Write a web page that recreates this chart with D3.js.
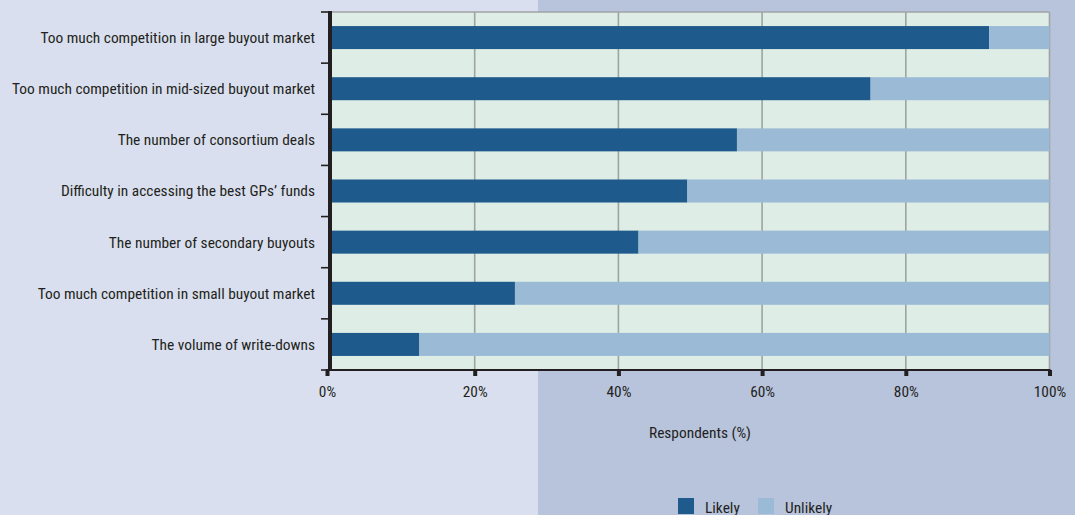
<!DOCTYPE html>
<html>
<head>
<meta charset="utf-8">
<script src="https://cdn.jsdelivr.net/npm/d3@7"></script>
<style>
  html, body { margin: 0; padding: 0; background: #d9dfee; }
  svg { display: block; }
  text { font-family: "Liberation Sans Narrow", "Roboto Condensed", "Liberation Sans", sans-serif; fill: #231f20; }
</style>
</head>
<body>
<svg id="chart" width="1075" height="515"></svg>
<script>
// Survey responses: share of respondents rating each factor as likely / unlikely
const categories = [
  "Too much competition in large buyout market",
  "Too much competition in mid-sized buyout market",
  "The number of consortium deals",
  "Difficulty in accessing the best GPs\u2019 funds",
  "The number of secondary buyouts",
  "Too much competition in small buyout market",
  "The volume of write-downs"
];
const likely = [91.6, 75.1, 56.5, 49.6, 42.8, 25.6, 12.3];
const unlikely = likely.map(v => 100 - v);
const seriesNames = ["Likely", "Unlikely"];
const seriesColors = ["#1f5a8c", "#9bbad6"];
const xTicks = [0, 20, 40, 60, 80, 100];

const FS = 15.4;
const svg = d3.select("#chart");
const W = 1075, H = 515;
const plot = { left: 331, right: 1049.5, top: 12, bottom: 370 };

// background panels
svg.append("rect").attr("x", 0).attr("y", 0).attr("width", W).attr("height", H).attr("fill", "#d9dfee");
svg.append("rect").attr("x", 538).attr("y", 0).attr("width", W - 538).attr("height", H).attr("fill", "#b8c3dc");

const x = d3.scaleLinear().domain([0, 100]).range([plot.left, plot.right]);
const y = d3.scaleBand().domain(categories).range([plot.top, plot.bottom]).paddingInner(0.55).paddingOuter(0.275);
const yBands = d3.scaleBand().domain(categories).range([plot.top, plot.bottom]);

// plot area
svg.append("rect")
  .attr("x", x(0)).attr("y", plot.top)
  .attr("width", x(100) - x(0)).attr("height", plot.bottom - plot.top)
  .attr("fill", "#deede5");

// vertical gridlines
svg.append("g").selectAll("line").data(xTicks.filter(t => t > 0)).join("line")
  .attr("x1", d => x(d)).attr("x2", d => x(d))
  .attr("y1", plot.top).attr("y2", plot.bottom)
  .attr("stroke", "#9fa3a4").attr("stroke-width", 1.6);

// top border
svg.append("line")
  .attr("x1", x(0)).attr("x2", x(100))
  .attr("y1", plot.top).attr("y2", plot.top)
  .attr("stroke", "#9fa3a4").attr("stroke-width", 1.6);

// stacked bars
const stackData = categories.map((c, i) => ({ cat: c, Likely: likely[i], Unlikely: unlikely[i] }));
const stacked = d3.stack().keys(seriesNames)(stackData);
svg.append("g").selectAll("g").data(stacked).join("g")
  .attr("fill", (d, i) => seriesColors[i])
  .selectAll("rect").data(d => d).join("rect")
  .attr("x", d => x(d[0]))
  .attr("width", d => x(d[1]) - x(d[0]))
  .attr("y", d => y(d.data.cat))
  .attr("height", y.bandwidth());

// y axis: thick line with ticks at band boundaries
const boundaries = categories.map(c => yBands(c)).concat([plot.bottom]);
svg.append("g").selectAll("line").data(boundaries).join("line")
  .attr("x1", 321).attr("x2", 330)
  .attr("y1", d => d).attr("y2", d => d)
  .attr("stroke", "#231f20").attr("stroke-width", 1.6);
svg.append("line")
  .attr("x1", 330).attr("x2", 330)
  .attr("y1", plot.top - 1).attr("y2", plot.bottom + 1)
  .attr("stroke", "#231f20").attr("stroke-width", 4);

// x axis line and ticks
svg.append("line")
  .attr("x1", 326).attr("x2", x(100) + 1)
  .attr("y1", plot.bottom).attr("y2", plot.bottom)
  .attr("stroke", "#231f20").attr("stroke-width", 2);
const xAxis = d3.axisBottom(x).tickValues(xTicks).tickFormat(d => d + "%").tickSize(6).tickPadding(10);
const gx = svg.append("g").attr("transform", `translate(0,${plot.bottom})`).call(xAxis);
gx.select(".domain").remove();
gx.selectAll(".tick line").attr("stroke", "#231f20").attr("stroke-width", 4)
  .attr("transform", (d) => d === 0 ? "translate(-4,0)" : null);
gx.selectAll(".tick text").attr("font-size", FS).attr("fill", "#231f20")
  .attr("font-family", null).attr("dx", d => d === 0 ? -4 : 0);

// category labels
svg.append("g").selectAll("text").data(categories).join("text")
  .attr("x", 315)
  .attr("y", d => y(d) + y.bandwidth() / 2)
  .attr("dy", "0.35em")
  .attr("text-anchor", "end")
  .attr("font-size", FS)
  .text(d => d);

// axis title
svg.append("text")
  .attr("x", 700).attr("y", 438)
  .attr("text-anchor", "middle")
  .attr("font-size", FS)
  .text("Respondents (%)");

// legend
const legendX = [678, 758];
const lg = svg.append("g").selectAll("g").data(seriesNames).join("g")
  .attr("transform", (d, i) => `translate(${legendX[i]},498)`);
lg.append("rect").attr("width", 16).attr("height", 16).attr("fill", (d, i) => seriesColors[i]);
lg.append("text").attr("x", 27).attr("y", 14.5).attr("font-size", FS).text(d => d);
</script>
</body>
</html>
